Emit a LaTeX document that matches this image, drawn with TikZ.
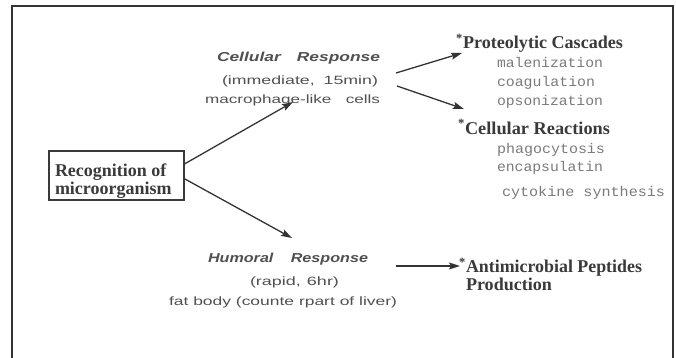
\documentclass[tikz,border=0pt]{standalone}
\usepackage{fontspec}
\setmainfont{Liberation Serif}
\setsansfont{Liberation Sans}
\setmonofont{Liberation Mono}
\usetikzlibrary{arrows.meta}
\definecolor{ink}{HTML}{333333}
\definecolor{serifink}{HTML}{3A3A3A}
\definecolor{sansink}{HTML}{505050}
\definecolor{monoink}{HTML}{7A7A7A}
\newcommand\fitw[2]{\resizebox{#1pt}{\height}{#2}}
\tikzset{
  txt/.style={inner sep=0pt, outer sep=0pt, anchor=west},
  serifbold/.style={txt, text=serifink, font=\fontsize{18}{18}\selectfont\bfseries},
  sanstxt/.style={txt, text=sansink, font=\fontsize{12}{12}\selectfont\sffamily},
  sansit/.style={txt, text=sansink, font=\fontsize{13}{13}\selectfont\sffamily\itshape\bfseries},
  monotxt/.style={txt, text=monoink, font=\fontsize{14}{14}\selectfont\ttfamily},
  conn/.style={draw=ink, line width=1.3pt, -{Stealth[length=11pt,width=7pt,inset=2pt]}},
}
\begin{document}
\begin{tikzpicture}[x=1pt,y=-1pt]
\useasboundingbox (0,0) rectangle (676,358);
% outer frame (open at the bottom)
\draw[ink, line width=1.5pt] (12,362) -- (12,6) -- (673,6) -- (673,362);
% recognition box
\node[draw=serifink, line width=1.7pt, minimum width=135pt, minimum height=49pt,
      inner sep=0pt, anchor=north west] (rec) at (48,150) {};
\node[serifbold, align=left] (rectext) at (55,181) {Recognition of\\microorganism};
% cellular response
\node[sansit] (cell) at (217,58) {\fitw{163}{Cellular\hspace{12pt}Response}};
\node[sanstxt] (imm) at (222,81) {\fitw{156}{(immediate,\hspace{6pt}15min)}};
\node[sanstxt] (macro) at (205,100) {\fitw{175}{macrophage-like\hspace{10pt}cells}};
% humoral response
\node[sansit] (hum) at (208,259) {\fitw{160}{Humoral\hspace{14pt}Response}};
\node[sanstxt] (rapid) at (250,282) {\fitw{89}{(rapid,\hspace{4pt}6hr)}};
\node[sanstxt] (fat) at (169,302) {\fitw{228}{fat body (counte rpart of liver)}};
% proteolytic cascades
\node[serifbold] (prot) at (463,43) {\llap{\textsuperscript{*}}\fitw{160}{Proteolytic Cascades}};
\node[monotxt] (mal) at (497,62) {\fitw{106}{malenization}};
\node[monotxt] (coag) at (497,83) {\fitw{98}{coagulation}};
\node[monotxt] (ops) at (497,102) {\fitw{106}{opsonization}};
% cellular reactions
\node[serifbold] (creac) at (465,127) {\llap{\textsuperscript{*}}\fitw{145}{Cellular Reactions}};
\node[monotxt] (phago) at (497,150) {\fitw{108}{phagocytosis}};
\node[monotxt] (encap) at (497,168) {\fitw{106}{encapsulatin}};
\node[monotxt] (cyto) at (502,193) {\fitw{163}{cytokine synthesis}};
% antimicrobial peptides
\node[serifbold] (anti) at (466,267) {\llap{\textsuperscript{*}}\fitw{176}{Antimicrobial Peptides}};
\node[serifbold] (prod) at (466,284) {\fitw{86}{Production}};
% arrow end points
\coordinate (tipcell) at (293,102);
\coordinate (tiphum) at (292,238);
\coordinate (srcprot) at (396,73);
\coordinate (tipprot) at (462,53);
\coordinate (srcreac) at (397,86);
\coordinate (tipreac) at (464,109);
\coordinate (srcanti) at (396,266);
\coordinate (tipanti) at (460,266);
% connectors
\draw[conn] ([yshift=11.5pt]rec.east) -- (tipcell);
\draw[conn] ([yshift=-3.5pt]rec.east) -- (tiphum);
\draw[conn] (srcprot) -- (tipprot);
\draw[conn] (srcreac) -- (tipreac);
\draw[conn] (srcanti) -- (tipanti);
\end{tikzpicture}
\end{document}
